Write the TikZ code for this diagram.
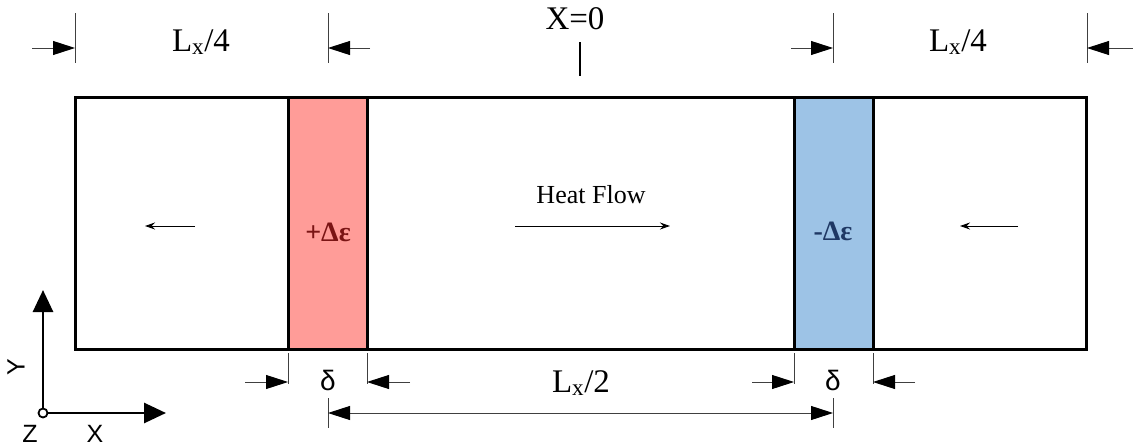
\documentclass[tikz,border=0pt]{standalone}
\usepackage{fontspec}
\setmainfont{Liberation Serif}
\setsansfont{Liberation Sans}
\usetikzlibrary{arrows.meta}

\definecolor{hotfill}{HTML}{FF9C98}
\definecolor{coldfill}{HTML}{9DC3E6}
\definecolor{hottext}{HTML}{7A1414}
\definecolor{coldtext}{HTML}{1F3864}

\begin{document}
\begin{tikzpicture}[
    x=1pt,
    y=-1pt,
    every node/.style={inner sep=0pt, font=\fontsize{33}{36}\selectfont},
    outline/.style={draw=black, line width=3pt},
    extline/.style={draw=black!75, line width=0.9pt},
    dimarrow/.style={draw=black!75, line width=0.9pt, -{Triangle[length=22pt, width=14pt, color=black]}},
    flowarrow/.style={draw=black, line width=1pt, -{Stealth[length=10pt, width=7pt]}},
    axisarrow/.style={draw=black, line width=2.8pt, -{Triangle[length=22pt, width=20pt]}},
    bandlabel/.style={font=\fontsize{28}{30}\selectfont\bfseries},
    axislabel/.style={font=\sffamily\fontsize{25}{27}\selectfont},
    deltalabel/.style={font=\sffamily\fontsize{28}{30}\selectfont}
]
    \useasboundingbox (0,0) rectangle (1133,447);

    % body and the two bands
    \coordinate (bodyNW) at (75,97);
    \coordinate (bodySE) at (1086,349);
    \coordinate (hotNW) at (288,97);
    \coordinate (hotSE) at (367,349);
    \coordinate (coldNW) at (794,97);
    \coordinate (coldSE) at (873,349);

    \fill[hotfill] (hotNW) rectangle (hotSE);
    \fill[coldfill] (coldNW) rectangle (coldSE);
    \draw[outline] (bodyNW) rectangle (bodySE);
    \draw[outline] (hotNW) rectangle (hotSE);
    \draw[outline] (coldNW) rectangle (coldSE);

    % top dimensions
    \foreach \name/\xx in {ta/75, tb/328, tc/833, td/1087}{
        \coordinate (\name top) at (\xx,13);
        \coordinate (\name bot) at (\xx,63);
        \coordinate (\name mid) at (\xx,48);
        \draw[extline] (\name top) -- (\name bot);
    }
    \coordinate (taout) at (32,48);
    \coordinate (tbout) at (370,48);
    \coordinate (tcout) at (791,48);
    \coordinate (tdout) at (1133,48);
    \draw[dimarrow] (taout) -- (tamid);
    \draw[dimarrow] (tbout) -- (tbmid);
    \draw[dimarrow] (tcout) -- (tcmid);
    \draw[dimarrow] (tdout) -- (tdmid);

    \node (quarterleft) at (201,42) {L\textsubscript{x}/4};
    \node (quarterright) at (958,42) {L\textsubscript{x}/4};

    \node (origin) at (575,19) {X=0};
    \coordinate (ticktop) at (580,42);
    \coordinate (tickbot) at (580,76);
    \draw[black, line width=2pt] (ticktop) -- (tickbot);

    % heat flow arrows
    \node[font=\fontsize{26}{28}\selectfont] (heatflow) at (591,195) {Heat Flow};
    \coordinate (flowA) at (515,226);
    \coordinate (flowB) at (670,226);
    \coordinate (leftA) at (195,226);
    \coordinate (leftB) at (145,226);
    \coordinate (rightA) at (1018,226);
    \coordinate (rightB) at (960,226);
    \draw[flowarrow] (flowA) -- (flowB);
    \draw[flowarrow] (leftA) -- (leftB);
    \draw[flowarrow] (rightA) -- (rightB);

    \node[bandlabel, text=hottext] (hotlabel) at (328,232) {+Δε};
    \node[bandlabel, text=coldtext] (coldlabel) at (833,231) {-Δε};

    % band widths
    \foreach \name/\xx in {ba/288, bb/367, bc/794, bd/873}{
        \coordinate (\name top) at (\xx,353);
        \coordinate (\name bot) at (\xx,384);
        \coordinate (\name mid) at (\xx,382);
        \draw[extline] (\name top) -- (\name bot);
    }
    \coordinate (baout) at (245,382);
    \coordinate (bbout) at (410,382);
    \coordinate (bcout) at (752,382);
    \coordinate (bdout) at (915,382);
    \draw[dimarrow] (baout) -- (bamid);
    \draw[dimarrow] (bbout) -- (bbmid);
    \draw[dimarrow] (bcout) -- (bcmid);
    \draw[dimarrow] (bdout) -- (bdmid);

    \node[deltalabel] (deltahot) at (328,380) {δ};
    \node[deltalabel] (deltacold) at (833,380) {δ};

    % half length
    \coordinate (halfAtop) at (328,398);
    \coordinate (halfAbot) at (328,428);
    \coordinate (halfBtop) at (833,398);
    \coordinate (halfBbot) at (833,428);
    \coordinate (halfA) at (328,413);
    \coordinate (halfB) at (833,413);
    \draw[extline] (halfAtop) -- (halfAbot);
    \draw[extline] (halfBtop) -- (halfBbot);
    \draw[dimarrow, {Triangle[length=22pt, width=14pt, color=black]}-{Triangle[length=22pt, width=14pt, color=black]}] (halfA) -- (halfB);
    \node (halflabel) at (581,383) {L\textsubscript{x}/2};

    % axes
    \coordinate (axo) at (43,413);
    \coordinate (axy) at (43,290);
    \coordinate (axx) at (166,413);
    \draw[axisarrow] (axo) -- (axy);
    \draw[axisarrow] (axo) -- (axx);
    \draw[black, fill=white, line width=1.8pt] (axo) circle (4.5);
    \node[axislabel, rotate=90] (ylabel) at (16,367) {Y};
    \node[axislabel] (zlabel) at (30,434) {Z};
    \node[axislabel] (xlabel) at (95,434) {X};

\end{tikzpicture}
\end{document}
